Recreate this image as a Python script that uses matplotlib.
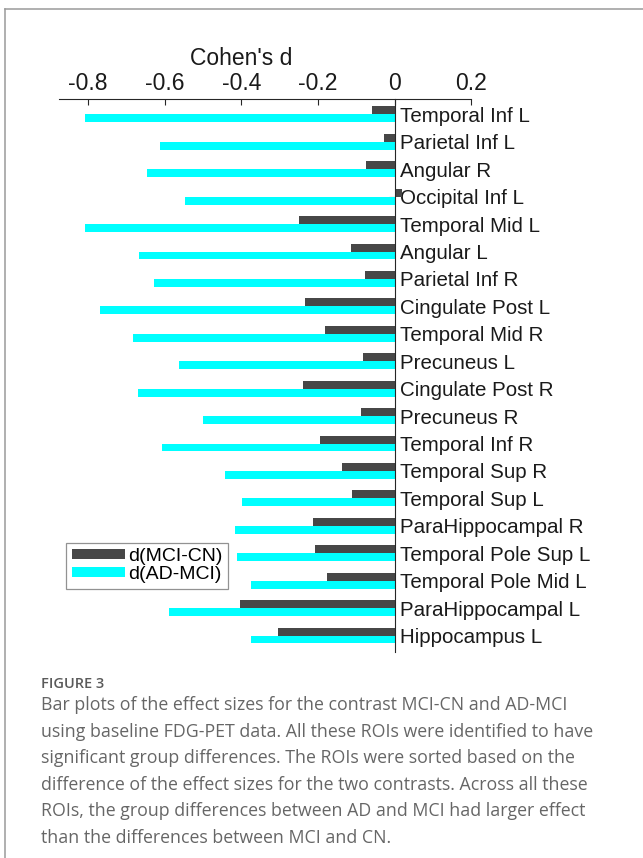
import matplotlib
matplotlib.use("Agg")
import numpy as np
import matplotlib.pyplot as plt
from matplotlib.lines import Line2D

plt.rcParams['font.family'] = ['Liberation Sans', 'DejaVu Sans']

# ROI names, top to bottom
rois = ["Temporal Inf L", "Parietal Inf L", "Angular R", "Occipital Inf L",
        "Temporal Mid L", "Angular L", "Parietal Inf R", "Cingulate Post L",
        "Temporal Mid R", "Precuneus L", "Cingulate Post R", "Precuneus R",
        "Temporal Inf R", "Temporal Sup R", "Temporal Sup L", "ParaHippocampal R",
        "Temporal Pole Sup L", "Temporal Pole Mid L", "ParaHippocampal L",
        "Hippocampus L"]

# Cohen's d values
d_mci_cn = [-0.060, -0.028, -0.075, 0.018, -0.250, -0.114, -0.077, -0.235,
            -0.183, -0.084, -0.240, -0.087, -0.196, -0.137, -0.111, -0.213,
            -0.209, -0.176, -0.404, -0.305]
d_ad_mci = [-0.809, -0.613, -0.646, -0.546, -0.809, -0.668, -0.627, -0.770,
            -0.684, -0.563, -0.671, -0.501, -0.608, -0.442, -0.398, -0.417,
            -0.412, -0.376, -0.590, -0.375]

xticks = [-0.8, -0.6, -0.4, -0.2, 0, 0.2]
xticklabels = ["-0.8", "-0.6", "-0.4", "-0.2", "0", "0.2"]

caption_title = "FIGURE 3"
caption_lines = [
    "Bar plots of the effect sizes for the contrast MCI-CN and AD-MCI",
    "using baseline FDG-PET data. All these ROIs were identified to have",
    "significant group differences. The ROIs were sorted based on the",
    "difference of the effect sizes for the two contrasts. Across all these",
    "ROIs, the group differences between AD and MCI had larger effect",
    "than the differences between MCI and CN.",
]

W, H = 643, 858
fig = plt.figure(figsize=(W / 100, H / 100), dpi=100)

# axes box in pixels: left 59, right 471.4, top 99.3, bottom 652
ax = fig.add_axes([59 / W, 1 - 652 / H, (471.4 - 59) / W, (652 - 99.3) / H])

y = np.arange(1, len(rois) + 1)
bh = 0.29
ax.barh(y - bh / 2, d_mci_cn, height=bh, color="#474747", label="d(MCI-CN)", zorder=2)
ax.barh(y + bh / 2, d_ad_mci, height=bh, color="#00ffff", label="d(AD-MCI)", zorder=2)

ax.set_xlim(-0.876, 0.2)
ax.set_ylim(20.6, 0.45)

spine_col = "#262626"
for s in ["left", "bottom"]:
    ax.spines[s].set_visible(False)
ax.spines["top"].set_color(spine_col)
ax.spines["top"].set_linewidth(0.8)
ax.spines["right"].set_position(("data", 0))
ax.spines["right"].set_color(spine_col)
ax.spines["right"].set_linewidth(0.8)
ax.spines["right"].set_zorder(3)

ax.xaxis.tick_top()
ax.set_xticks(xticks)
ax.set_xticklabels(xticklabels)
ax.tick_params(axis="x", direction="in", length=4.2, width=0.8, color=spine_col,
               labelsize=16.5, pad=3.0, labelcolor="#1a1a1a")

ax.yaxis.tick_right()
ax.set_yticks(y)
ax.set_yticklabels(rois)
ax.tick_params(axis="y", direction="in", length=4.2, width=0.8, color=spine_col,
               labelsize=14.8, pad=3.8, labelcolor="#1a1a1a")

ax.xaxis.set_label_position("top")
ax.set_xlabel("Cohen's d", fontsize=16.5, labelpad=5, color="#1a1a1a")
ax.xaxis.label.set_x(0.441)

leg = ax.legend(loc="upper left", bbox_to_anchor=(0.017, 0.198), borderaxespad=0,
                fontsize=14, frameon=True, fancybox=False, edgecolor="#777777",
                handlelength=2.75, handleheight=0.42, handletextpad=0.15,
                labelspacing=0.02, borderpad=0.3)
leg.get_frame().set_linewidth(0.9)

# page frame lines
fig.add_artist(Line2D([5 / W, 1], [1 - 9 / H, 1 - 9 / H], color="#9a9a9a", lw=1.1))
fig.add_artist(Line2D([5 / W, 5 / W], [0, 1 - 9 / H], color="#9a9a9a", lw=1.1))

# caption
cap_font = ["Open Sans", "DejaVu Sans"]
fig.text(41 / W, 1 - 688.3 / H, caption_title, fontsize=10.5, fontweight="semibold",
         color="#5a5a5a", family=cap_font, va="baseline")
for i, line in enumerate(caption_lines):
    fig.text(41 / W, 1 - (710 + i * 26.55) / H, line, fontsize=12.8,
             color="#666666", family=cap_font, va="baseline")

fig.savefig("out.png", dpi=100)
